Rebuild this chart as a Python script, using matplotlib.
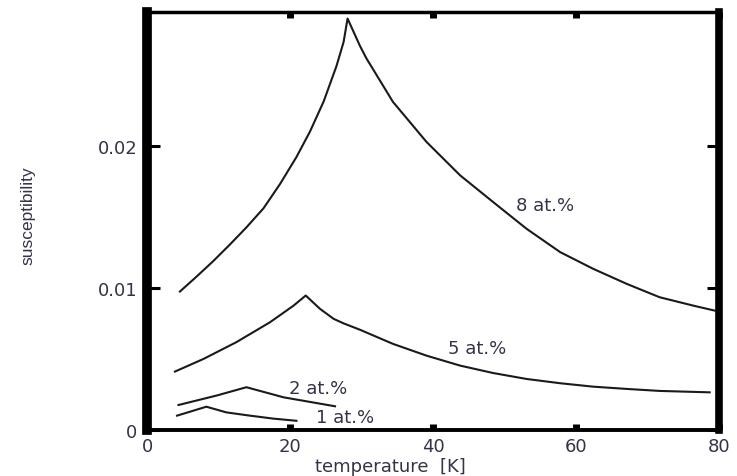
import matplotlib
matplotlib.use('Agg')
import matplotlib.pyplot as plt

# values (temperature [K], susceptibility)
t8 = [4.6, 6.95, 9.3, 11.6, 13.9, 16.3, 18.6, 20.9, 22.8, 24.7, 26.5, 27.5, 28.05,
      29.8, 30.7, 34.4, 39.1, 43.8, 48.4, 53.1, 57.8, 62.4, 67.1, 71.7, 76.4, 79.4]
c8 = [0.00974, 0.01080, 0.01190, 0.01305, 0.01425, 0.0156, 0.0173, 0.0192, 0.0210,
      0.0231, 0.0256, 0.0273, 0.02894,
      0.0270, 0.02613, 0.02308, 0.02026, 0.01791, 0.01604, 0.01415, 0.01251, 0.01134,
      0.01028, 0.00934, 0.00875, 0.0084]

t5 = [3.9, 7.9, 12.5, 17.2, 20.5, 22.2, 24.2, 26.1, 27.5, 29.8, 31.7, 34.4, 39.1, 43.8,
      48.4, 53.1, 57.8, 62.4, 67.1, 71.7, 78.7]
c5 = [0.00411, 0.0050, 0.00618, 0.00758, 0.00875, 0.00946, 0.00852, 0.00782, 0.0075,
      0.00705, 0.00664, 0.00606, 0.00523, 0.00453, 0.00401, 0.00359, 0.00329, 0.00305,
      0.00289, 0.00275, 0.00265]

t2 = [4.4, 9.7, 13.9, 19.1, 26.3]
c2 = [0.00176, 0.00242, 0.00301, 0.0023, 0.00167]

t1 = [4.2, 8.3, 11.1, 14.4, 17.7, 20.9]
c1 = [0.00101, 0.00164, 0.00124, 0.00101, 0.0008, 0.00065]

labels = ['8 at.%', '5 at.%', '2 at.%', '1 at.%']
label_pos = [(51.6, 0.01585), (42.1, 0.00576), (19.9, 0.00295), (23.6, 0.00092)]

xticks = [0, 20, 40, 60, 80]
yticks = [0, 0.01, 0.02]
yticklabels = ['0', '0.01', '0.02']

plt.rcParams['font.family'] = ['DejaVu Sans']
txt = '#33334a'

fig = plt.figure(figsize=(7.37, 4.77), dpi=100)
ax = fig.add_axes([0.1995, 0.0964, 0.776, 0.8763])

for t, c in [(t8, c8), (t5, c5), (t2, c2), (t1, c1)]:
    ax.plot(t, c, color='#1a1a1a', lw=1.5, solid_joinstyle='round')

for lab, (x, y) in zip(labels, label_pos):
    ax.text(x, y, lab, fontsize=13, color=txt, va='center', ha='left')

ax.set_xlim(0, 80)
ax.set_ylim(0, 0.0294)
ax.set_xticks(xticks)
ax.set_yticks(yticks)
ax.set_yticklabels(yticklabels)

ax.spines['left'].set_linewidth(7)
ax.spines['right'].set_linewidth(5.5)
ax.spines['bottom'].set_linewidth(2.8)
ax.spines['top'].set_linewidth(2.5)

ax.tick_params(axis='x', direction='in', length=4, width=5, top=True,
               labelsize=13, labelcolor=txt, pad=5)
ax.tick_params(axis='y', direction='in', length=9, width=2.2, right=True,
               labelsize=13, labelcolor=txt, pad=7)

ax.set_xlabel('temperature  [K]', fontsize=13, color=txt)
ax.xaxis.set_label_coords(0.425, -0.065)
ax.set_ylabel('susceptibility', fontsize=12.5, color=txt, family='Liberation Sans')
ax.yaxis.set_label_coords(-0.195, 0.514)

fig.savefig('out.png', dpi=100)
